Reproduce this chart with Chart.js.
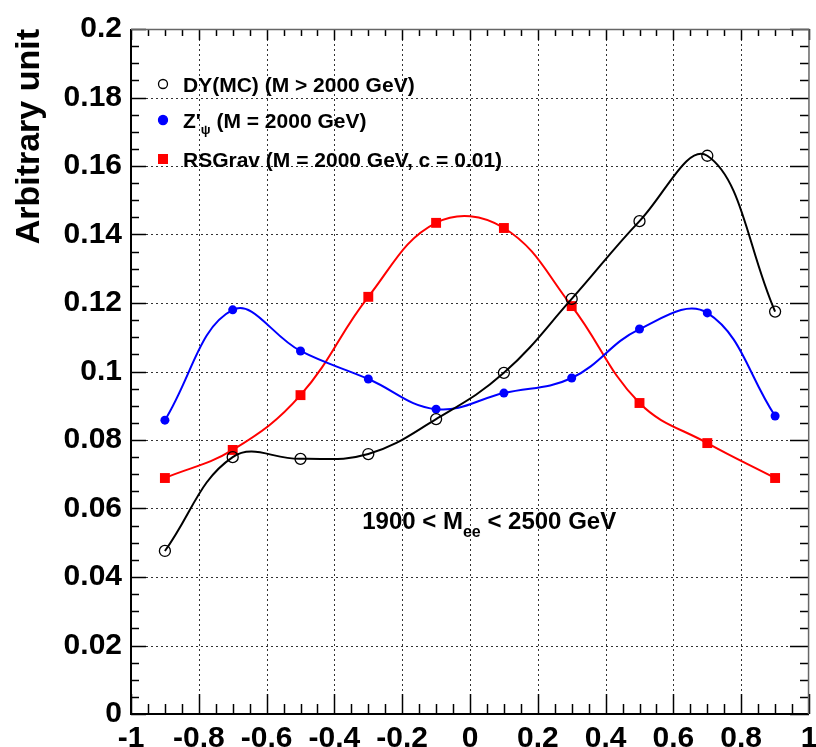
<!DOCTYPE html>
<html><head><meta charset="utf-8">
<script src="https://cdn.jsdelivr.net/npm/chart.js@4/dist/chart.umd.min.js"></script>
<style>html,body{margin:0;padding:0;background:#fff}canvas{display:block}</style>
</head><body>
<canvas id="c" width="816" height="747"></canvas>
<script>
// ---- data ----
const cosTheta = [-0.9, -0.7, -0.5, -0.3, -0.1, 0.1, 0.3, 0.5, 0.7, 0.9];
const dyMC   = [0.0476, 0.0750, 0.0745, 0.0759, 0.0861, 0.0996, 0.1212, 0.1439, 0.1630, 0.1175];
const zPrime = [0.0858, 0.1180, 0.1060, 0.0978, 0.0890, 0.0937, 0.0981, 0.1124, 0.1171, 0.0870];
const rsGrav = [0.0689, 0.0771, 0.0931, 0.1218, 0.1434, 0.1419, 0.1191, 0.0908, 0.0791, 0.0689];
const xTickLabels = ['-1', '-0.8', '-0.6', '-0.4', '-0.2', '0', '0.2', '0.4', '0.6', '0.8', '1'];
const yTickLabels = ['0', '0.02', '0.04', '0.06', '0.08', '0.1', '0.12', '0.14', '0.16', '0.18', '0.2'];
const seriesLabels = ['DY(MC) (M > 2000 GeV)', "Z'_{ψ} (M = 2000 GeV)", 'RSGrav (M = 2000 GeV, c = 0.01)'];
const yTitle = 'Arbitrary unit';
const annotation = '1900 < M_{ee} < 2500 GeV';

const FONT = "'Liberation Sans', Arial, Helvetica, sans-serif";

function pts(arr) { return cosTheta.map((x, i) => ({x: x, y: arr[i]})); }

// draw text with _{sub} parts
function richText(ctx, str, x, y, size, subSize, subDy) {
  const parts = str.split(/(_\{[^}]*\})/);
  let cx = x;
  for (const p of parts) {
    if (!p) continue;
    if (p.startsWith('_{')) {
      const t = p.slice(2, -1);
      ctx.font = 'bold ' + subSize + 'px ' + FONT;
      ctx.fillText(t, cx, y + subDy);
      cx += ctx.measureText(t).width;
    } else {
      ctx.font = 'bold ' + size + 'px ' + FONT;
      ctx.fillText(p, cx, y);
      cx += ctx.measureText(p).width;
    }
  }
}

const framePlugin = {
  id: 'frame',
  beforeDraw(chart) {
    const ctx = chart.ctx;
    ctx.save(); ctx.fillStyle = '#fff'; ctx.fillRect(0, 0, chart.width, chart.height); ctx.restore();
  },
  beforeDatasetsDraw(chart) {
    const ctx = chart.ctx, ca = chart.chartArea, xs = chart.scales.x, ys = chart.scales.y;
    ctx.save();
    ctx.setLineDash([2, 3]);
    ctx.strokeStyle = '#333';
    ctx.lineWidth = 1;
    xTickLabels.forEach(l => {
      const v = parseFloat(l); if (v <= -1 || v >= 1) return;
      const px = Math.round(xs.getPixelForValue(v)) + 0.5;
      ctx.beginPath(); ctx.moveTo(px, ca.top); ctx.lineTo(px, ca.bottom); ctx.stroke();
    });
    yTickLabels.forEach(l => {
      const v = parseFloat(l); if (v <= 0 || v >= 0.2) return;
      const py = Math.round(ys.getPixelForValue(v)) + 0.5;
      ctx.beginPath(); ctx.moveTo(ca.left, py); ctx.lineTo(ca.right, py); ctx.stroke();
    });
    ctx.restore();
  },
  afterDatasetsDraw(chart) {
    const ctx = chart.ctx, ca = chart.chartArea, xs = chart.scales.x, ys = chart.scales.y;
    ctx.save();
    ctx.setLineDash([]);
    ctx.strokeStyle = '#000';
    // ticks x (major 0.2, minor 0.05)
    ctx.lineWidth = 1.5;
    for (let i = -20; i <= 20; i++) {
      const v = i * 0.05, major = (i % 4 === 0);
      const px = Math.round(xs.getPixelForValue(v)) + 0.5;
      const lb = major ? 20 : 10, lt = major ? 11 : 7;
      ctx.beginPath(); ctx.moveTo(px, ca.bottom); ctx.lineTo(px, ca.bottom - lb); ctx.stroke();
      ctx.beginPath(); ctx.moveTo(px, ca.top); ctx.lineTo(px, ca.top + lt); ctx.stroke();
    }
    for (let i = 0; i <= 40; i++) {
      const v = i * 0.005, major = (i % 4 === 0);
      const py = Math.round(ys.getPixelForValue(v)) + 0.5;
      const ll = major ? 15 : 8, lr = major ? 19 : 9;
      ctx.beginPath(); ctx.moveTo(ca.left, py); ctx.lineTo(ca.left + ll, py); ctx.stroke();
      ctx.beginPath(); ctx.moveTo(ca.right, py); ctx.lineTo(ca.right - lr, py); ctx.stroke();
    }
    // frame
    ctx.lineWidth = 2;
    ctx.beginPath(); ctx.moveTo(ca.left, ca.top); ctx.lineTo(ca.left, ca.bottom); ctx.lineTo(ca.right, ca.bottom); ctx.stroke();
    ctx.strokeStyle = '#666'; ctx.lineWidth = 1.5;
    ctx.beginPath(); ctx.moveTo(ca.left, ca.top + 0.5); ctx.lineTo(ca.right, ca.top + 0.5); ctx.lineTo(ca.right - 0.5, ca.bottom); ctx.stroke();

    // legend
    ctx.fillStyle = '#000';
    ctx.textBaseline = 'alphabetic';
    ctx.textAlign = 'left';
    const rows = [84, 120, 159];
    chart.data.datasets.forEach((ds, i) => {
      const y = rows[i], mx = 163;
      ctx.save();
      if (ds.pointStyle === 'rect') {
        ctx.fillStyle = ds.pointBackgroundColor;
        ctx.fillRect(mx - 5, y - 5, 10, 10);
      } else {
        ctx.beginPath(); ctx.arc(mx, y, 4.5, 0, Math.PI * 2);
        if (ds.pointBackgroundColor !== 'rgba(0,0,0,0)') { ctx.fillStyle = ds.pointBackgroundColor; ctx.fill(); }
        ctx.lineWidth = 1.3; ctx.strokeStyle = ds.pointBorderColor; ctx.stroke();
      }
      ctx.restore();
      richText(ctx, ds.label, 183, y + 8, 21, 13, 6);
    });
    // annotation
    const ax = xs.getPixelForValue(-0.318), ay = ys.getPixelForValue(0.054);
    richText(ctx, annotation, ax, ay, 24, 16, 8);
    ctx.restore();
  }
};

new Chart(document.getElementById('c'), {
  type: 'line',
  data: {
    datasets: [
      { label: seriesLabels[0], data: pts(dyMC), borderColor: '#000', borderWidth: 2,
        pointStyle: 'circle', pointRadius: 5.5, pointBorderWidth: 1.3,
        pointBackgroundColor: 'rgba(0,0,0,0)', pointBorderColor: '#000', tension: 0.4, fill: false },
      { label: seriesLabels[1], data: pts(zPrime), borderColor: '#0000ff', borderWidth: 2,
        pointStyle: 'circle', pointRadius: 4.5, pointBorderWidth: 0,
        pointBackgroundColor: '#0000ff', pointBorderColor: '#0000ff', tension: 0.4, fill: false },
      { label: seriesLabels[2], data: pts(rsGrav), borderColor: '#ff0000', borderWidth: 2,
        pointStyle: 'rect', pointRadius: 7, pointBorderWidth: 0,
        pointBackgroundColor: '#ff0000', pointBorderColor: '#ff0000', tension: 0.4, fill: false }
    ]
  },
  options: {
    responsive: false,
    animation: false,
    devicePixelRatio: 1,
    layout: { padding: { top: 29, right: 0, left: 0, bottom: 0 } },
    plugins: { legend: { display: false }, tooltip: { enabled: false } },
    scales: {
      x: {
        type: 'linear', min: -1, max: 1,
        grid: { display: false, drawTicks: false }, border: { display: false },
        afterBuildTicks: s => { s.ticks = xTickLabels.map(l => ({ value: parseFloat(l) })); },
        ticks: {
          autoSkip: false, maxRotation: 0, padding: 7, color: '#000',
          font: { family: FONT, size: 30, weight: 'bold' },
          callback: (v, i) => xTickLabels[i]
        },
        afterFit: s => { s.height = 33; s.paddingLeft = 0; s.paddingRight = 0; }
      },
      y: {
        type: 'linear', min: 0, max: 0.2,
        grid: { display: false, drawTicks: false }, border: { display: false },
        afterBuildTicks: s => { s.ticks = yTickLabels.map(l => ({ value: parseFloat(l) })); },
        ticks: {
          autoSkip: false, padding: 9, color: '#000',
          font: { family: FONT, size: 30, weight: 'bold' },
          callback: (v, i) => yTickLabels[i]
        },
        title: {
          display: true, text: yTitle, align: 'end', color: '#000',
          font: { family: FONT, size: 34, weight: 'bold' },
          padding: { top: 9, bottom: 0 }
        },
        afterFit: s => { s.width = 131; }
      }
    }
  },
  plugins: [framePlugin]
});
</script>
</body></html>
